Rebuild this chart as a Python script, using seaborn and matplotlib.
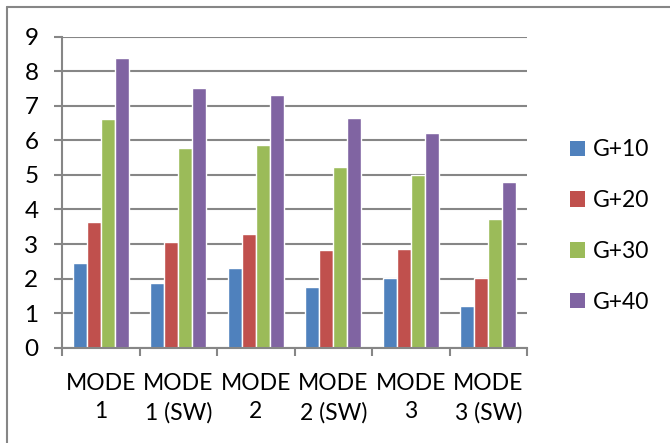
import matplotlib
matplotlib.use("Agg")
import matplotlib.pyplot as plt
import pandas as pd
import seaborn as sns
from matplotlib.lines import Line2D
from matplotlib.patches import Patch

# values
modes = ["MODE\n1", "MODE\n1 (SW)", "MODE\n2", "MODE\n2 (SW)", "MODE\n3", "MODE\n3 (SW)"]
series = ["G+10", "G+20", "G+30", "G+40"]
g10 = [2.46, 1.86, 2.30, 1.76, 2.01, 1.22]
g20 = [3.64, 3.05, 3.29, 2.82, 2.87, 2.03]
g30 = [6.62, 5.78, 5.88, 5.23, 4.99, 3.71]
g40 = [8.37, 7.51, 7.31, 6.66, 6.21, 4.79]
colors = ["#4F81BD", "#C0504D", "#9BBB59", "#8064A2"]

records = []
for name, vals in zip(series, [g10, g20, g30, g40]):
    for m, v in zip(modes, vals):
        records.append({"mode": m, "series": name, "value": v})
df = pd.DataFrame.from_records(records)

sns.set_style("white")
plt.rcParams["font.family"] = ["Lato", "DejaVu Sans"]
plt.rcParams["text.color"] = "black"
plt.rcParams["xtick.labelcolor"] = "black"
plt.rcParams["ytick.labelcolor"] = "black"
grey = "#868686"
fs = 16.5

fig = plt.figure(figsize=(6.7, 4.43), dpi=100)
ax = fig.add_axes([62 / 670, 1 - 347.7 / 443, (527 - 62) / 670, (347.7 - 36.7) / 443])

sns.barplot(data=df, x="mode", y="value", hue="series", palette=colors,
            width=0.72, saturation=1, ax=ax, legend=False)

ax.set_ylim(0, 9)
ax.set_xlim(-0.5, len(modes) - 0.5)
ax.set_yticks(range(10))
ax.yaxis.grid(True, color=grey, lw=1.5)
ax.set_axisbelow(True)
ax.set_xlabel("")
ax.set_ylabel("")

for s in ["top", "right"]:
    ax.spines[s].set_visible(False)
for s in ["left", "bottom"]:
    ax.spines[s].set_color(grey)
    ax.spines[s].set_linewidth(1.5)

ax.tick_params(axis="y", length=6, width=1.5, color=grey, pad=11, labelsize=17.5, left=True)
ax.set_xticks(range(len(modes)))
ax.set_xticklabels(modes, fontsize=fs, linespacing=1.45)
ax.tick_params(axis="x", length=0, pad=18)
ax.set_xticks([i - 0.5 for i in range(len(modes) + 1)], minor=True)
ax.tick_params(axis="x", which="minor", length=6, width=1.5, color=grey, bottom=True)

handles = [Patch(facecolor=c, edgecolor="none") for c in colors]
fig.legend(handles, series, loc="center left", bbox_to_anchor=(570 / 670, 1 - 226 / 443),
           frameon=False, fontsize=fs, handlelength=0.66, handleheight=0.66,
           handletextpad=0.35, labelspacing=1.3, borderpad=0, borderaxespad=0)

# chart border (only left and top visible in the crop)
fig.add_artist(Line2D([7 / 670, 7 / 670], [0, 1 - 7 / 443], color=grey, lw=1.5, transform=fig.transFigure))
fig.add_artist(Line2D([7 / 670, 1], [1 - 7 / 443, 1 - 7 / 443], color=grey, lw=1.5, transform=fig.transFigure))

fig.savefig("out.png", dpi=100)
